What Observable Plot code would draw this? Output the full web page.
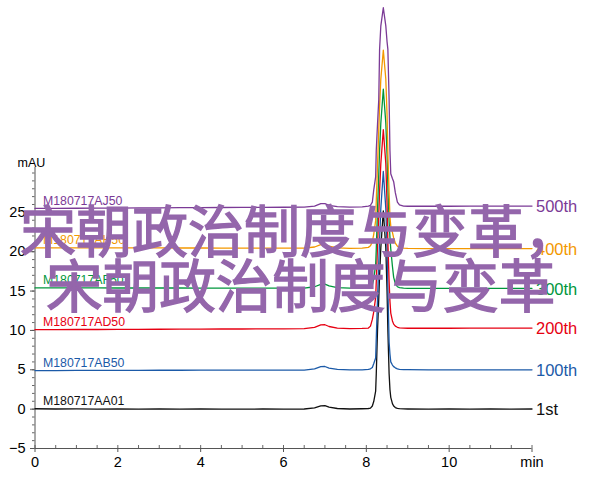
<!DOCTYPE html>
<html>
<head>
<meta charset="utf-8">
<script src="https://cdn.jsdelivr.net/npm/d3@7"></script>
<script src="https://cdn.jsdelivr.net/npm/@observablehq/plot@0.6"></script>
<style>
  html, body { margin: 0; padding: 0; background: #fff; }
  #wrap { position: relative; width: 600px; height: 504px; overflow: hidden; }
  #mark { position: absolute; left: 0; top: 200px; font-family: "Noto Sans CJK SC", sans-serif; color: #9466ab; font-size: 56px; line-height: 55px; white-space: pre; pointer-events: none; -webkit-text-stroke: 1.4px #9466ab; }
  #mark div { height: 55px; }
</style>
</head>
<body>
<div id="wrap"><div id="chart"></div>
<div id="mark"><div style="padding-left:20px">宋朝政治制度与变革，</div><div style="padding-left:46px;font-size:56.6px">宋朝政治制度与变革</div></div>
</div>
<script>
// retention time (min)
const time = [0, 0.5, 1, 1.5, 2, 2.5, 3, 3.5, 4, 4.5, 5, 5.5, 6, 6.5, 6.75, 6.9, 7.0, 7.1, 7.3, 7.6, 7.9,
  8.05, 8.1, 8.145, 8.18, 8.225, 8.24, 8.27, 8.3, 8.32, 8.35, 8.41,
  8.47, 8.5, 8.52, 8.55, 8.57, 8.59, 8.63, 8.66, 8.7, 8.75, 8.8, 8.9,
  9.0, 9.5, 10, 10.5, 11, 11.5, 12];

// absorbance (mAU), traces as displayed (stacked)
const run1 = [0.05, 0.02, 0.03, 0.0, 0.02, 0.0, 0.02, 0.0, 0.02, 0.0, 0.0, 0.02, 0.0, 0.02, 0.15, 0.42, 0.45, 0.25, 0.08, 0.02, 0.05,
  0.08, 0.12, 0.4, 1.0, 2.3, 4.5, 10, 14, 17, 20.5, 25.2,
  20.5, 15, 10, 4.5, 2.5, 1.5, 0.7, 0.4, 0.2, 0.1, 0.06, 0.03,
  0.02, 0.0, 0.02, 0.0, 0.02, 0.0, 0.02];
const run100 = [4.9, 4.9, 4.92, 4.92, 4.93, 4.93, 4.94, 4.94, 4.95, 4.95, 4.95, 4.96, 4.96, 4.97, 5.12, 5.4, 5.42, 5.22, 5.05, 4.98, 5.0,
  5.05, 5.12, 5.3, 5.8, 6.5, 9.0, 14.0, 18.5, 21.5, 25.5, 30.2,
  25.5, 20.5, 15.5, 8.5, 7.0, 6.0, 5.6, 5.4, 5.25, 5.12, 5.06, 5.03,
  5.02, 5.0, 5.0, 5.0, 5.0, 5.0, 5.0];
const run200 = [10.1, 10.1, 10.12, 10.12, 10.14, 10.14, 10.15, 10.16, 10.17, 10.18, 10.18, 10.2, 10.2, 10.22, 10.4, 10.7, 10.72, 10.5, 10.3, 10.22, 10.25,
  10.3, 10.55, 11.4, 12.4, 14.2, 16.2, 20.7, 24.7, 27.7, 31.2, 35.5,
  31.2, 26.2, 21.2, 16.2, 13.7, 12.2, 11.2, 10.8, 10.55, 10.4, 10.32, 10.3,
  10.28, 10.28, 10.28, 10.3, 10.3, 10.3, 10.3];
const run300 = [15.4, 15.4, 15.4, 15.4, 15.39, 15.39, 15.39, 15.39, 15.38, 15.38, 15.38, 15.38, 15.38, 15.38, 15.55, 15.85, 15.88, 15.65, 15.45, 15.37, 15.4,
  15.42, 15.5, 15.75, 16.55, 18.35, 20.35, 25.35, 29.85, 32.85, 36.35, 40.65,
  36.35, 32.35, 28.35, 23.85, 21.85, 20.35, 18.15, 16.75, 15.95, 15.55, 15.43, 15.37,
  15.35, 15.35, 15.35, 15.35, 15.35, 15.35, 15.35];
const run400 = [20.5, 20.5, 20.5, 20.49, 20.49, 20.48, 20.48, 20.47, 20.47, 20.46, 20.46, 20.46, 20.45, 20.45, 20.6, 20.9, 20.92, 20.7, 20.5, 20.42, 20.45,
  20.55, 20.75, 21.25, 22.25, 23.95, 26.45, 30.95, 35.45, 38.45, 41.95, 45.6,
  41.95, 37.45, 32.45, 27.45, 24.45, 23.25, 22.45, 21.75, 21.1, 20.7, 20.55, 20.45,
  20.42, 20.4, 20.4, 20.4, 20.4, 20.4, 20.4];
const run500 = [25.5, 25.5, 25.52, 25.53, 25.55, 25.56, 25.58, 25.6, 25.6, 25.62, 25.63, 25.64, 25.65, 25.66, 25.8, 26.1, 26.12, 25.9, 25.72, 25.66, 25.7,
  25.8, 25.9, 26.3, 27.9, 29.5, 32.9, 36.2, 39.3, 45.7, 48.7, 51.0,
  48.7, 46.7, 45.7, 39.3, 32.9, 29.9, 29.3, 28.9, 27.5, 26.3, 25.95, 25.8,
  25.78, 25.78, 25.78, 25.8, 25.8, 25.8, 25.8];

const sampleNames = ["M180717AA01", "M180717AB50", "M180717AD50", "M180717AF50", "M180717AH50", "M180717AJ50"];
const injectionLabels = ["1st", "100th", "200th", "300th", "400th", "500th"];
const colors = ["#111111", "#1b5aa8", "#e60012", "#00963c", "#f39800", "#7b3a96"];
const xTicks = [0, 2, 4, 6, 8, 10, 12];
const yTicks = [-5, 0, 5, 10, 15, 20, 25];

const runs = [run1, run100, run200, run300, run400, run500];
const rows = runs.flatMap((vals, i) => time.map((t, j) => ({t, v: vals[j], s: injectionLabels[i]})));
const firsts = runs.map((vals, i) => ({t: time[0], v: vals[0], name: sampleNames[i], s: injectionLabels[i]}));
const lasts = runs.map((vals, i) => ({t: time[time.length - 1], v: vals[vals.length - 1], s: injectionLabels[i]}));

const chart = Plot.plot({
  width: 600,
  height: 504,
  marginLeft: 34.5,
  marginRight: 68.5,
  marginTop: 167,
  marginBottom: 56,
  style: {fontFamily: "'Liberation Sans', Arial, sans-serif", background: "#fff", color: "#000"},
  x: {domain: [0, 12]},
  y: {domain: [-5, 30.7]},
  color: {domain: injectionLabels, range: colors},
  marks: [
    Plot.axisX({ticks: d3.range(0, 12.01, 0.5), tickSize: -3, tickFormat: () => "", stroke: "#666", label: null}),
    Plot.axisX({ticks: xTicks, tickSize: 4, tickPadding: 4, tickFormat: d => d === 12 ? "min" : d, fontSize: 14.5, stroke: "#555", label: null}),
    Plot.axisY({ticks: d3.range(-5, 30.01, 1), tickSize: 2.5, tickFormat: () => "", stroke: "#666", label: null}),
    Plot.axisY({ticks: yTicks, tickSize: 4.5, tickPadding: 5, fontSize: 14.5, stroke: "#555", label: null}),
    Plot.ruleY([-5], {stroke: "#555"}),
    Plot.ruleX([0], {stroke: "#555"}),
    Plot.text(["mAU"], {text: d => d, frameAnchor: "top-left", dx: -3.5, dy: -9, fontSize: 12.5, textAnchor: "middle"}),
    Plot.line(rows, {x: "t", y: "v", z: "s", stroke: "s", strokeWidth: 1.3}),
    Plot.text(firsts, {x: "t", y: "v", text: "name", fill: "s", dx: 8, dy: -7.5, textAnchor: "start", fontSize: 12.3}),
    Plot.text(lasts, {x: "t", y: "v", text: "s", fill: "s", dx: 4, dy: 1, textAnchor: "start", fontSize: 16.5})
  ]
});
document.getElementById("chart").appendChild(chart);
</script>
</body>
</html>
